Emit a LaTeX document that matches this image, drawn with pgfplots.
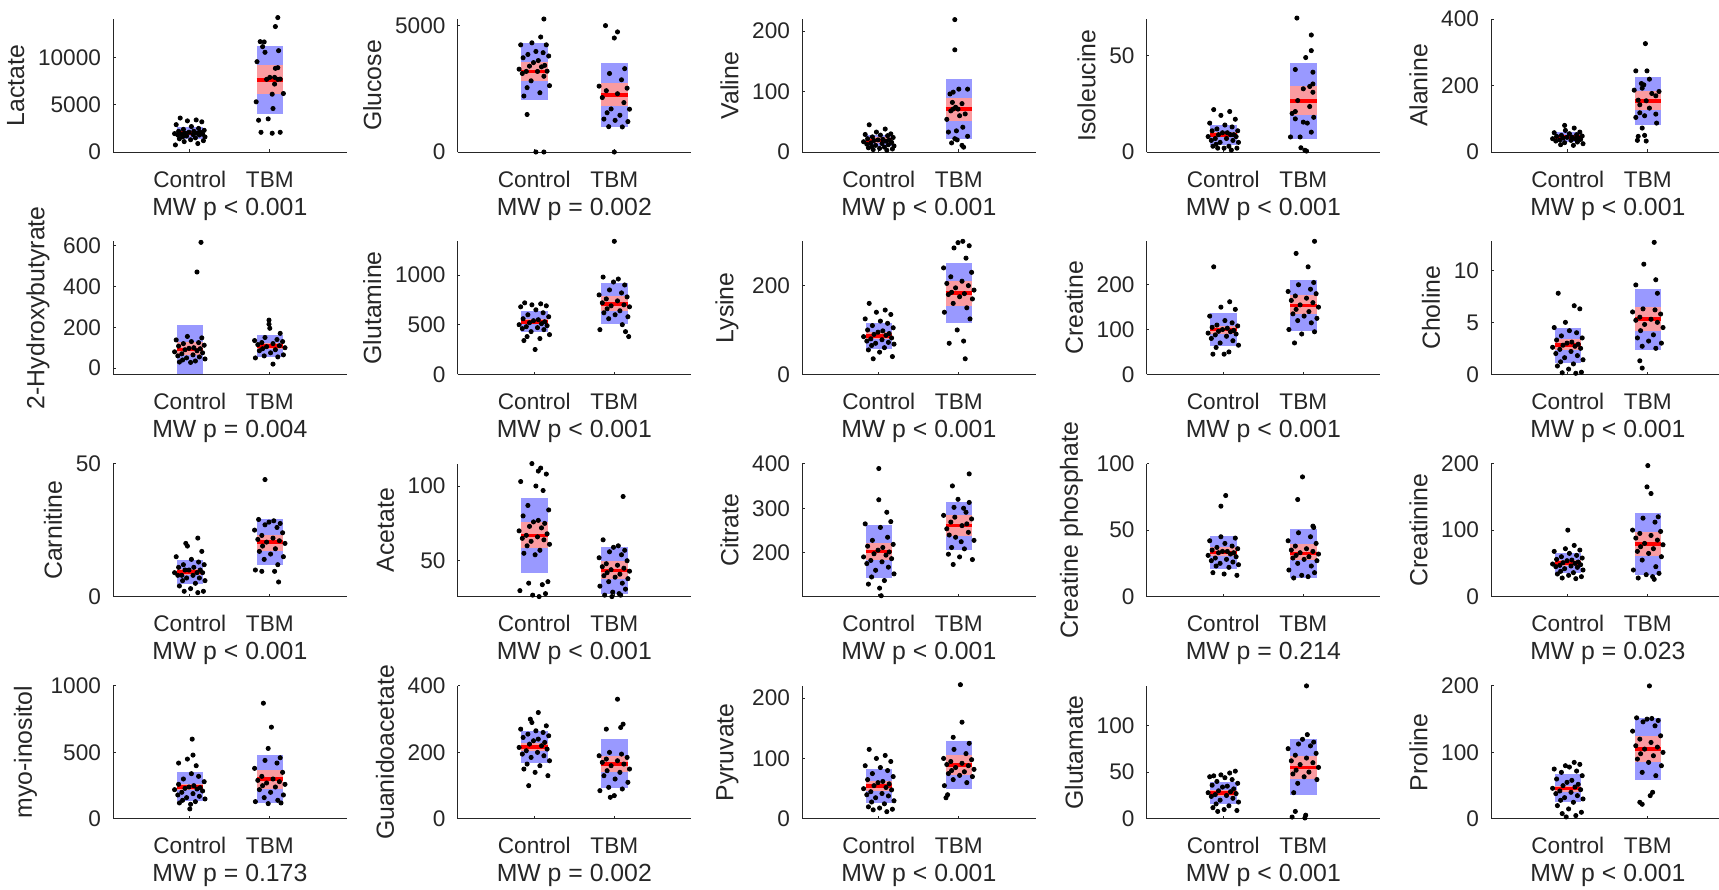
\documentclass[border=0pt]{standalone}
\usepackage{fontspec}
\setmainfont{Liberation Sans}
\usepackage{pgfplots}
\pgfplotsset{compat=1.18}

\definecolor{axisgray}{RGB}{38,38,38}
\definecolor{sdblue}{RGB}{153,153,255}
\definecolor{cipink}{RGB}{250,155,160}
\definecolor{meanred}{RGB}{255,0,0}

\pgfplotsset{
  metab/.style={
    scale only axis, width=116.8pt, height=66.5pt,
    anchor=south west,
    xmin=0.04, xmax=2.96,
    axis x line*=bottom, axis y line*=left,
    axis line style={axisgray, line width=0.5pt},
    xtick={1,2}, xticklabels={Control,TBM},
    tick align=inside, major tick length=1.4pt,
    tick style={axisgray, line width=0.5pt},
    ticklabel style={font=\fontsize{11.3}{13}\selectfont, text=axisgray},
    xticklabel style={anchor=base, yshift=-17.5pt},
    yticklabel style={xshift=-2.5pt},
    label style={font=\fontsize{12.4}{14}\selectfont, text=axisgray},
    xlabel style={at={(axis description cs:0.5,0)}, anchor=base, yshift=-31.5pt},
    clip=false,
    /pgf/number format/assume math mode=true,
    /pgf/number format/1000 sep={},
    scaled y ticks=false,
  },
  dots/.style={only marks, mark=*, mark size=1.05pt, draw=black, fill=black},
}

% SD box, 95% CI band and mean line of one group
% #1 mean, #2 sd low, #3 sd high, #4 ci low, #5 ci high
\newcommand{\ctrlbox}[5]{%
  \addplot[draw=none, fill=sdblue] coordinates {(0.835,#2) (1.165,#2) (1.165,#3) (0.835,#3)};
  \addplot[draw=none, fill=cipink] coordinates {(0.835,#4) (1.165,#4) (1.165,#5) (0.835,#5)};
  \addplot[meanred, line width=1.8pt] coordinates {(0.835,#1) (1.165,#1)};
}
\newcommand{\tbmbox}[5]{%
  \addplot[draw=none, fill=sdblue] coordinates {(1.835,#2) (2.165,#2) (2.165,#3) (1.835,#3)};
  \addplot[draw=none, fill=cipink] coordinates {(1.835,#4) (2.165,#4) (2.165,#5) (1.835,#5)};
  \addplot[meanred, line width=1.8pt] coordinates {(1.835,#1) (2.165,#1)};
}

\begin{document}
\begin{tikzpicture}
\path[use as bounding box] (0,0) rectangle (859.5pt,-444.5pt);

% ---------------- row 1 ----------------
\begin{axis}[metab, at={(56.5pt,-76pt)}, ylabel={Lactate}, xlabel={MW p < 0.001},
  ymin=0, ymax=14100, ytick={0,5000,10000}]
\ctrlbox{2020}{1360}{2680}{1770}{2270}
\tbmbox{7650}{4010}{11290}{6100}{9200}
\addplot[dots] coordinates {(0.88,3600) (1.08,3400) (0.97,3300) (1.15,3200) (0.83,2900) (1.02,2700) (1.11,2500) (0.92,2400) (1.18,2300) (0.86,2200) (1.05,2200) (0.99,2100) (1.13,2100) (0.94,2000) (1.09,2000) (0.81,1950) (1.16,1900) (0.90,1900) (1.04,1850) (0.85,1800) (1.12,1800) (0.96,1700) (1.19,1600) (0.91,1600) (1.07,1500) (0.87,1400) (1.01,1300) (1.17,1200) (0.93,1100) (1.10,900) (0.82,750)};
\addplot[dots] coordinates {(2.10,14250) (2.07,13300) (1.88,11700) (1.93,11670) (1.91,11170) (2.11,10745) (1.94,10570) (1.84,9575) (2.10,8940) (2.07,8870) (1.96,7700) (2.00,7910) (2.06,7910) (2.13,7730) (2.10,7700) (2.06,7200) (2.17,6200) (2.03,6130) (1.83,5320) (2.04,4610) (1.86,3370) (1.98,3510) (1.89,2090) (2.03,1990) (2.13,2090)};
\end{axis}

\begin{axis}[metab, at={(228.75pt,-76pt)}, ylabel={Glucose}, xlabel={MW p = 0.002},
  ymin=0, ymax=5250, ytick={0,5000}]
\ctrlbox{3180}{2070}{4290}{2790}{3560}
\tbmbox{2260}{1000}{3520}{1800}{2730}
\addplot[dots] coordinates {(1.12,5250) (1.08,4540) (0.97,4310) (1.15,4230) (0.83,4230) (1.02,3970) (1.11,3920) (0.92,3850) (1.18,3790) (0.86,3720) (1.05,3610) (0.99,3530) (1.13,3420) (0.94,3390) (1.09,3360) (0.81,3270) (1.16,3190) (0.90,3180) (1.04,3180) (0.85,3100) (1.12,2990) (0.96,2810) (1.19,2620) (0.91,2540) (1.07,2340) (0.87,2210) (0.91,1480) (1.02,0) (1.12,0)};
\addplot[dots] coordinates {(1.89,4990) (2.04,4740) (2.00,4500) (2.13,3290) (1.94,3100) (2.09,2850) (1.81,2600) (2.16,2520) (1.90,2420) (2.04,2300) (1.85,2150) (2.12,1950) (1.96,1700) (2.19,1690) (1.91,1550) (2.07,1450) (1.87,1300) (2.01,1250) (2.17,1200) (1.93,1000) (2.10,990) (2.00,0)};
\end{axis}

\begin{axis}[metab, at={(401pt,-76pt)}, ylabel={Valine}, xlabel={MW p < 0.001},
  ymin=0, ymax=220, ytick={0,100,200}]
\ctrlbox{19}{10}{28}{15}{24}
\tbmbox{71}{22}{120}{52}{90}
\addplot[dots] coordinates {(0.88,45) (1.08,38) (0.97,33) (1.15,30) (0.83,29) (1.02,28) (1.11,27) (0.92,25) (1.18,24) (0.86,22) (1.05,21) (0.99,20) (1.13,20) (0.94,19) (1.09,18) (0.81,17) (1.16,16) (0.90,15) (1.04,14) (0.85,13) (1.12,12) (0.96,11) (1.19,10) (0.91,9) (1.07,8) (0.87,7) (1.01,6) (1.17,5) (0.93,4) (1.10,3)};
\addplot[dots] coordinates {(1.95,219) (1.95,169) (2.00,104) (1.89,96) (1.93,99) (2.11,104) (1.85,54) (1.92,82) (2.04,80) (1.99,71) (1.93,71) (1.96,74) (1.90,68) (2.08,63) (2.01,60) (2.05,41) (1.87,33) (1.97,35) (2.11,26) (1.95,22) (1.98,20) (1.91,15) (2.04,11) (2.06,8)};
\end{axis}

\begin{axis}[metab, at={(573.25pt,-76pt)}, ylabel={Isoleucine}, xlabel={MW p < 0.001},
  ymin=0, ymax=69, ytick={0,50}]
\ctrlbox{8.8}{3.5}{14.1}{7.8}{10.3}
\tbmbox{26.5}{7}{46}{19}{34}
\addplot[dots] coordinates {(0.88,22) (1.08,21) (0.97,19) (1.15,17) (0.83,15) (1.02,14) (1.11,13) (0.92,12) (1.18,11) (0.86,11) (1.05,10) (0.99,10) (1.13,9) (0.94,9) (1.09,9) (0.81,8) (1.16,8) (0.90,7) (1.04,7) (0.85,6) (1.12,6) (0.96,5) (1.19,5) (0.91,4) (1.07,3) (0.87,3) (1.01,2) (1.17,2) (0.93,2) (1.10,1)};
\addplot[dots] coordinates {(1.92,69.5) (2.10,60.7) (2.10,52.6) (2.03,49) (1.90,42.8) (2.12,41.4) (2.12,35.3) (2.12,31) (2.00,32.8) (1.93,26.7) (2.08,23.6) (1.90,21) (2.13,18) (1.90,17.2) (2.00,15.5) (2.05,15) (2.10,10.3) (1.84,7.8) (1.96,7.8) (1.97,2.2) (2.02,0.9) (2.04,0.5) (1.86,20) (2.08,34)};
\end{axis}

\begin{axis}[metab, at={(745.5pt,-76pt)}, ylabel={Alanine}, xlabel={MW p < 0.001},
  ymin=0, ymax=400, ytick={0,200,400}]
\ctrlbox{45}{30}{60}{40}{50}
\tbmbox{154}{81}{227}{126}{182}
\addplot[dots] coordinates {(0.96,80) (1.08,72) (0.97,65) (1.15,60) (0.83,58) (1.02,55) (1.11,52) (0.92,50) (1.18,48) (0.86,47) (1.05,45) (0.99,44) (1.13,43) (0.94,42) (1.09,40) (0.81,40) (1.16,38) (0.90,36) (1.04,35) (0.85,33) (1.12,30) (0.96,28) (1.19,25) (0.91,22) (1.07,20)};
\addplot[dots] coordinates {(1.97,326) (1.85,244) (1.99,244) (2.02,219) (1.92,206) (1.95,202) (1.93,192) (1.83,186) (2.14,182) (2.05,176) (2.10,169) (1.88,156) (1.98,154) (1.90,142) (2.02,132) (1.90,118) (2.10,114) (1.96,109) (1.85,104) (2.11,87) (1.93,72) (1.88,47) (1.96,50) (1.98,33) (1.87,35)};
\end{axis}

% ---------------- row 2 ----------------
\begin{axis}[metab, at={(56.5pt,-187.15pt)}, ylabel={2-Hydroxybutyrate}, xlabel={MW p = 0.004},
  ymin=-30, ymax=620, ytick={0,200,400,600}]
\ctrlbox{92}{-30}{210}{62}{126}
\tbmbox{107}{53}{161}{93}{125}
\addplot[dots] coordinates {(1.14,615) (1.09,470) (0.97,155) (1.15,148) (0.83,138) (1.02,130) (1.11,125) (0.92,120) (1.18,112) (0.86,108) (1.05,100) (0.99,97) (1.13,95) (0.94,90) (1.09,85) (0.81,80) (1.16,75) (0.90,70) (1.04,65) (0.85,60) (1.12,55) (0.96,50) (1.19,45) (0.91,40) (1.07,35) (0.87,30) (1.01,28)};
\addplot[dots] coordinates {(1.99,235) (1.99,215) (2.00,195) (2.13,170) (1.94,150) (2.09,140) (1.81,135) (2.16,130) (1.90,125) (2.04,120) (1.85,115) (2.12,110) (1.96,105) (2.19,100) (1.91,95) (2.07,90) (1.87,85) (2.01,75) (2.17,65) (1.93,60) (2.10,55) (1.82,50) (2.04,20)};
\end{axis}

\begin{axis}[metab, at={(228.75pt,-187.15pt)}, ylabel={Glutamine}, xlabel={MW p < 0.001},
  ymin=0, ymax=1340, ytick={0,500,1000}]
\ctrlbox{530}{425}{635}{505}{560}
\tbmbox{710}{505}{915}{640}{785}
\addplot[dots] coordinates {(0.88,720) (1.08,710) (0.97,700) (1.15,690) (0.83,680) (1.02,650) (1.11,620) (0.92,600) (1.18,580) (0.86,560) (1.05,550) (0.99,540) (1.13,530) (0.94,520) (1.09,510) (0.81,500) (1.16,490) (0.90,480) (1.04,470) (0.85,460) (1.12,450) (0.96,430) (1.19,400) (0.91,380) (1.07,360) (0.87,340) (1.01,250)};
\addplot[dots] coordinates {(2.00,1340) (1.86,980) (2.05,960) (1.99,930) (2.13,900) (1.94,850) (2.09,820) (1.81,800) (2.16,780) (1.90,760) (2.04,740) (1.85,720) (2.12,700) (1.96,690) (2.19,680) (1.91,660) (2.07,640) (1.87,620) (2.01,600) (2.17,580) (1.93,560) (2.10,500) (1.82,450) (2.14,430) (2.18,380)};
\end{axis}

\begin{axis}[metab, at={(401pt,-187.15pt)}, ylabel={Lysine}, xlabel={MW p < 0.001},
  ymin=0, ymax=300, ytick={0,200}]
\ctrlbox{87}{58}{116}{80}{95}
\tbmbox{183}{115}{251}{155}{211}
\addplot[dots] coordinates {(0.88,160) (1.08,145) (0.97,140) (1.15,135) (0.83,125) (1.02,120) (1.11,115) (0.92,110) (1.18,105) (0.86,100) (1.05,98) (0.99,95) (1.13,92) (0.94,90) (1.09,88) (0.81,85) (1.16,82) (0.90,80) (1.04,78) (0.85,75) (1.12,72) (0.96,70) (1.19,68) (0.91,65) (1.07,60) (0.87,55) (1.01,50) (1.17,40) (0.93,35)};
\addplot[dots] coordinates {(2.05,300) (1.99,297) (2.13,290) (1.94,285) (2.09,262) (1.81,240) (2.16,230) (1.90,220) (2.04,210) (1.85,205) (2.12,200) (1.96,195) (2.19,190) (1.91,185) (2.07,182) (1.87,180) (2.01,175) (2.17,170) (1.93,160) (2.10,150) (1.82,140) (2.14,125) (1.98,100) (2.06,75) (1.88,70) (2.08,35)};
\end{axis}

\begin{axis}[metab, at={(573.25pt,-187.15pt)}, ylabel={Creatine}, xlabel={MW p < 0.001},
  ymin=0, ymax=297, ytick={0,100,200}]
\ctrlbox{100}{63}{137}{91}{108}
\tbmbox{154}{97}{211}{135}{176}
\addplot[dots] coordinates {(0.88,240) (1.08,162) (0.97,150) (1.15,145) (0.83,130) (1.02,120) (1.11,115) (0.92,110) (1.18,108) (0.86,105) (1.05,103) (0.99,100) (1.13,98) (0.94,96) (1.09,95) (0.81,92) (1.16,90) (0.90,88) (1.04,85) (0.85,80) (1.12,75) (0.96,70) (1.19,65) (0.91,60) (1.07,50) (0.87,45) (1.01,45)};
\addplot[dots] coordinates {(2.14,297) (1.91,270) (2.06,240) (2.13,205) (1.94,200) (2.09,190) (1.81,185) (2.16,180) (1.90,175) (2.04,170) (1.85,165) (2.12,160) (1.96,155) (2.19,150) (1.91,145) (2.07,140) (1.87,135) (2.01,130) (2.17,125) (1.93,120) (2.10,115) (1.82,100) (2.14,95) (1.98,90) (1.89,70)};
\end{axis}

\begin{axis}[metab, at={(745.5pt,-187.15pt)}, ylabel={Choline}, xlabel={MW p < 0.001},
  ymin=0, ymax=12.8, ytick={0,5,10}]
\ctrlbox{2.8}{1.1}{4.5}{2.3}{3.4}
\tbmbox{5.3}{2.35}{8.2}{4.2}{6.5}
\addplot[dots] coordinates {(0.88,7.8) (1.08,6.6) (1.15,6.3) (0.97,5.0) (0.83,4.5) (1.02,4.2) (1.11,4.0) (0.92,3.7) (1.18,3.5) (0.86,3.3) (1.05,3.1) (0.99,3.0) (1.13,2.9) (0.94,2.8) (1.09,2.7) (0.81,2.6) (1.16,2.5) (0.90,2.4) (1.04,2.2) (0.85,2.0) (1.12,1.8) (0.96,1.6) (1.19,1.4) (0.91,1.2) (1.07,1.0) (0.87,0.8) (1.01,0.5) (1.17,0.2) (0.93,0.15) (1.10,0.1)};
\addplot[dots] coordinates {(2.08,12.7) (1.95,10.6) (2.10,9.1) (1.85,8.6) (2.12,7.8) (1.94,6.3) (2.09,6.2) (1.81,6.0) (2.16,5.8) (1.90,5.5) (2.04,5.3) (1.85,5.2) (2.12,5.0) (1.96,4.8) (2.19,4.5) (1.91,4.2) (2.07,3.8) (1.87,3.5) (2.01,3.2) (2.17,3.0) (1.93,2.7) (2.10,2.5) (1.90,1.3) (1.93,0.6)};
\end{axis}

% ---------------- row 3 ----------------
\begin{axis}[metab, at={(56.5pt,-298.3pt)}, ylabel={Carnitine}, xlabel={MW p < 0.001},
  ymin=0, ymax=50, ytick={0,50}]
\ctrlbox{9.2}{4.6}{13.9}{8}{10.5}
\tbmbox{20.5}{12}{29}{17.2}{23}
\addplot[dots] coordinates {(1.10,22) (0.95,20) (0.97,19) (1.15,17) (0.83,15) (1.02,14) (1.11,13) (0.92,12) (1.18,12) (0.86,11) (1.05,11) (0.99,10) (1.13,10) (0.94,10) (1.09,9) (0.81,9) (1.16,9) (0.90,8) (1.04,8) (0.85,8) (1.12,7) (0.96,7) (1.19,6) (0.91,6) (1.07,5) (0.87,4) (1.01,3) (1.17,2) (0.93,2) (1.10,1.5)};
\addplot[dots] coordinates {(1.94,44) (1.86,29) (2.05,28.5) (1.99,28) (2.13,27.5) (1.94,27) (2.09,26) (1.81,25) (2.16,24) (1.90,23) (2.04,22) (1.85,21.5) (2.12,21) (1.96,20.5) (2.19,20) (1.91,19) (2.07,18) (1.87,17) (2.01,16) (2.17,15) (1.93,14) (2.10,12) (1.82,10) (1.90,9.5) (2.06,9.5) (2.11,5.5)};
\end{axis}

\begin{axis}[metab, at={(228.75pt,-298.3pt)}, ylabel={Acetate}, xlabel={MW p < 0.001},
  ymin=26, ymax=115, ytick={50,100}]
\ctrlbox{67}{42}{92}{58.4}{76}
\tbmbox{43.5}{28}{59}{37.8}{50}
\addplot[dots] coordinates {(0.97,115) (1.08,112) (1.05,110) (1.15,108) (0.83,103) (1.02,100) (1.11,97) (0.92,87) (1.18,84) (0.86,80) (1.05,77) (0.99,76) (1.13,75) (0.94,73) (1.09,72) (0.81,70) (1.16,68) (0.90,67) (1.04,66) (0.85,65) (1.12,64) (0.96,63) (1.19,61) (0.91,60) (1.07,57) (0.87,55) (1.01,54) (1.17,36) (0.93,35) (1.10,34) (0.82,30) (1.14,28) (0.98,27) (1.06,26)};
\addplot[dots] coordinates {(2.11,93) (1.86,64) (2.05,60) (1.99,59) (2.13,57) (1.94,56) (2.09,54) (1.81,52) (2.16,50) (1.90,48) (2.04,47) (1.85,46) (2.12,45) (1.96,44) (2.19,43) (1.91,42) (2.07,41) (1.87,40) (2.01,39) (2.17,38) (1.93,36) (2.10,35) (1.82,33) (2.14,31) (1.98,29) (2.06,28) (1.88,27) (2.08,27) (1.97,26)};
\end{axis}

\begin{axis}[metab, at={(401pt,-298.3pt)}, ylabel={Citrate}, xlabel={MW p < 0.001},
  ymin=102, ymax=400, ytick={200,300,400}]
\ctrlbox{203}{143}{262}{183}{221}
\tbmbox{261}{207}{315}{238}{284}
\addplot[dots] coordinates {(1.00,389) (1.00,319) (1.10,291) (1.15,270) (0.83,265) (1.02,257) (1.11,235) (0.92,228) (1.18,219) (0.86,215) (1.05,212) (0.99,206) (1.13,202) (0.94,198) (1.09,195) (0.81,191) (1.16,187) (0.90,183) (1.04,180) (0.85,176) (1.12,168) (0.96,161) (1.19,153) (0.91,146) (1.07,138) (0.87,130) (1.01,121) (1.03,104)};
\addplot[dots] coordinates {(2.13,377) (1.92,350) (1.99,320) (2.13,313) (1.94,302) (2.09,291) (1.81,284) (2.16,276) (1.90,269) (2.04,261) (1.85,254) (2.12,246) (1.96,235) (2.19,228) (1.91,212) (2.07,209) (1.87,197) (2.01,191) (2.17,185) (1.93,174) (2.06,300) (1.95,280) (2.10,265) (1.88,240) (2.03,225)};
\end{axis}

\begin{axis}[metab, at={(573.25pt,-298.3pt)}, ylabel={Creatine phosphate}, xlabel={MW p = 0.214},
  ymin=0, ymax=100, ytick={0,50,100}]
\ctrlbox{33.3}{21}{45.5}{30.4}{37}
\tbmbox{32.5}{14}{51}{27.3}{39.4}
\addplot[dots] coordinates {(1.03,76) (0.97,68) (0.97,45) (1.15,44) (0.83,42) (1.02,40) (1.11,38) (0.92,37) (1.18,36) (0.86,35) (1.05,34) (0.99,34) (1.13,33) (0.94,33) (1.09,32) (0.81,31) (1.16,30) (0.90,29) (1.04,28) (0.85,27) (1.12,26) (0.96,25) (1.19,24) (0.91,23) (1.07,22) (0.87,18) (1.01,17) (1.17,16)};
\addplot[dots] coordinates {(1.99,90) (1.93,73) (2.12,53) (2.13,52) (1.94,48) (2.09,45) (1.81,42) (2.16,40) (1.90,38) (2.04,36) (1.85,35) (2.12,34) (1.96,33) (2.19,32) (1.91,31) (2.07,30) (1.87,29) (2.01,28) (2.17,27) (1.93,25) (2.10,23) (1.82,20) (2.14,18) (1.98,16) (2.06,15) (1.88,14)};
\end{axis}

\begin{axis}[metab, at={(745.5pt,-298.3pt)}, ylabel={Creatinine}, xlabel={MW p = 0.023},
  ymin=0, ymax=200, ytick={0,100,200}]
\ctrlbox{50.5}{36}{65}{45.5}{54.5}
\tbmbox{79}{33}{125}{60.6}{96.5}
\addplot[dots] coordinates {(1.00,100) (1.08,77) (0.97,72) (1.15,70) (0.83,68) (1.02,65) (1.11,62) (0.92,60) (1.18,58) (0.86,56) (1.05,55) (0.99,54) (1.13,52) (0.94,51) (1.09,50) (0.81,49) (1.16,48) (0.90,47) (1.04,46) (0.85,45) (1.12,44) (0.96,42) (1.19,40) (0.91,38) (1.07,36) (0.87,34) (1.01,32) (1.17,30) (0.93,28) (1.10,27)};
\addplot[dots] coordinates {(2.00,197) (1.99,165) (2.04,155) (2.13,120) (1.94,118) (2.09,112) (1.81,100) (2.16,98) (1.90,95) (2.04,92) (1.85,88) (2.12,85) (1.96,80) (2.19,78) (1.91,75) (2.07,72) (1.87,68) (2.01,65) (2.17,60) (1.93,55) (2.10,45) (1.82,40) (2.14,35) (1.98,33) (2.06,30) (1.88,28) (2.08,26)};
\end{axis}

% ---------------- row 4 ----------------
\begin{axis}[metab, at={(56.5pt,-409.45pt)}, ylabel={myo-inositol}, xlabel={MW p = 0.173},
  ymin=0, ymax=1000, ytick={0,500,1000}]
\ctrlbox{240}{131}{349}{215}{266}
\tbmbox{299}{117}{481}{228}{367}
\addplot[dots] coordinates {(1.03,600) (1.04,480) (0.97,450) (0.86,420) (1.08,400) (1.02,340) (1.11,320) (0.92,300) (1.18,280) (0.86,260) (1.05,250) (0.99,240) (1.13,235) (0.94,230) (1.09,225) (0.81,220) (1.16,210) (0.90,200) (1.04,190) (0.85,180) (1.12,170) (0.96,160) (1.19,150) (0.91,140) (1.07,130) (0.87,120) (1.01,110) (1.00,75)};
\addplot[dots] coordinates {(1.92,870) (2.02,690) (1.98,530) (2.13,460) (1.94,440) (2.09,420) (1.81,380) (2.16,350) (1.90,320) (2.04,300) (1.85,290) (2.12,280) (1.96,270) (2.19,260) (1.91,250) (2.07,240) (1.87,220) (2.01,200) (2.17,180) (1.93,160) (2.10,140) (1.82,130) (2.14,120) (1.98,115)};
\end{axis}

\begin{axis}[metab, at={(228.75pt,-409.45pt)}, ylabel={Guanidoacetate}, xlabel={MW p = 0.002},
  ymin=0, ymax=400, ytick={0,200,400}]
\ctrlbox{216}{168}{264}{203}{229}
\tbmbox{166}{93}{239}{141}{189}
\addplot[dots] coordinates {(1.05,320) (0.95,300) (0.97,290) (1.15,280) (0.83,270) (1.02,265) (1.11,260) (0.92,255) (1.18,250) (0.86,245) (1.05,240) (0.99,235) (1.13,230) (0.94,225) (1.09,220) (0.81,215) (1.16,210) (0.90,205) (1.04,200) (0.85,195) (1.12,190) (0.96,185) (1.19,175) (0.91,165) (1.07,160) (0.87,150) (1.01,140) (1.17,130) (0.93,100)};
\addplot[dots] coordinates {(2.04,360) (2.11,285) (2.08,275) (1.90,270) (1.94,200) (2.09,195) (1.81,190) (2.16,185) (1.90,180) (2.04,175) (1.85,170) (2.12,165) (1.96,160) (2.19,150) (1.91,145) (2.07,140) (1.87,130) (2.01,120) (2.17,110) (1.93,95) (2.10,90) (1.82,85) (2.00,70) (1.95,65)};
\end{axis}

\begin{axis}[metab, at={(401pt,-409.45pt)}, ylabel={Pyruvate}, xlabel={MW p < 0.001},
  ymin=0, ymax=220, ytick={0,100,200}]
\ctrlbox{54}{26}{82}{45.6}{62}
\tbmbox{89}{49}{129}{72}{105.6}
\addplot[dots] coordinates {(0.88,115) (1.08,105) (0.97,100) (1.15,95) (0.83,88) (1.02,85) (1.11,80) (0.92,75) (1.18,70) (0.86,65) (1.05,62) (0.99,60) (1.13,58) (0.94,55) (1.09,52) (0.81,50) (1.16,48) (0.90,45) (1.04,42) (0.85,40) (1.12,38) (0.96,35) (1.19,30) (0.91,28) (1.07,25) (0.87,20) (1.01,18) (1.17,16) (0.93,15) (1.10,12)};
\addplot[dots] coordinates {(2.02,222) (2.04,160) (1.93,135) (2.13,125) (1.94,115) (2.09,108) (1.81,100) (2.16,98) (1.90,95) (2.04,92) (1.85,90) (2.12,88) (1.96,85) (2.19,82) (1.91,80) (2.07,78) (1.87,75) (2.01,72) (2.17,70) (1.93,65) (2.10,60) (1.82,55) (1.86,40) (1.84,35)};
\end{axis}

\begin{axis}[metab, at={(573.25pt,-409.45pt)}, ylabel={Glutamate}, xlabel={MW p < 0.001},
  ymin=0, ymax=142, ytick={0,50,100}]
\ctrlbox{27.7}{15.7}{39.7}{24.1}{31.2}
\tbmbox{55}{25}{85}{42.6}{66.7}
\addplot[dots] coordinates {(1.15,51) (1.08,49) (0.97,47) (0.88,46) (0.83,45) (1.02,44) (1.11,42) (0.92,40) (1.18,38) (0.86,36) (1.05,35) (0.99,34) (1.13,32) (0.94,30) (1.09,29) (0.81,28) (1.16,27) (0.90,26) (1.04,25) (0.85,24) (1.12,22) (0.96,20) (1.19,18) (0.91,16) (1.07,14) (0.87,12) (1.01,10) (1.17,9) (0.93,8)};
\addplot[dots] coordinates {(2.04,142) (2.05,90) (1.99,85) (2.13,82) (1.94,80) (2.09,78) (1.81,75) (2.16,70) (1.90,68) (2.04,65) (1.85,62) (2.12,60) (1.96,58) (2.19,55) (1.91,52) (2.07,50) (1.87,48) (2.01,45) (2.17,42) (1.93,38) (1.88,28) (1.90,8) (2.03,4) (1.86,2) (2.02,1)};
\end{axis}

\begin{axis}[metab, at={(745.5pt,-409.45pt)}, ylabel={Proline}, xlabel={MW p < 0.001},
  ymin=0, ymax=200, ytick={0,100,200}]
\ctrlbox{46}{25}{67}{41}{50}
\tbmbox{105}{59}{151}{85}{125}
\addplot[dots] coordinates {(1.08,85) (1.15,82) (0.97,80) (1.02,78) (0.83,75) (1.11,72) (0.92,70) (1.18,65) (0.86,60) (1.05,58) (0.99,55) (1.13,52) (0.94,50) (1.09,48) (0.81,46) (1.16,44) (0.90,42) (1.04,40) (0.85,38) (1.12,35) (0.96,32) (1.19,30) (0.91,28) (1.07,25) (0.87,20) (1.01,15) (1.17,10) (0.93,8) (1.10,5) (0.98,3)};
\addplot[dots] coordinates {(2.02,200) (1.86,152) (2.05,151) (1.99,150) (2.13,148) (1.94,146) (2.09,140) (1.81,132) (2.16,125) (1.90,120) (2.04,115) (1.85,110) (2.12,108) (1.96,105) (2.19,100) (1.91,98) (2.07,95) (1.87,90) (2.01,85) (2.17,80) (1.93,70) (2.10,65) (2.06,40) (2.03,35) (1.90,25) (1.93,22)};
\end{axis}

\end{tikzpicture}
\end{document}
